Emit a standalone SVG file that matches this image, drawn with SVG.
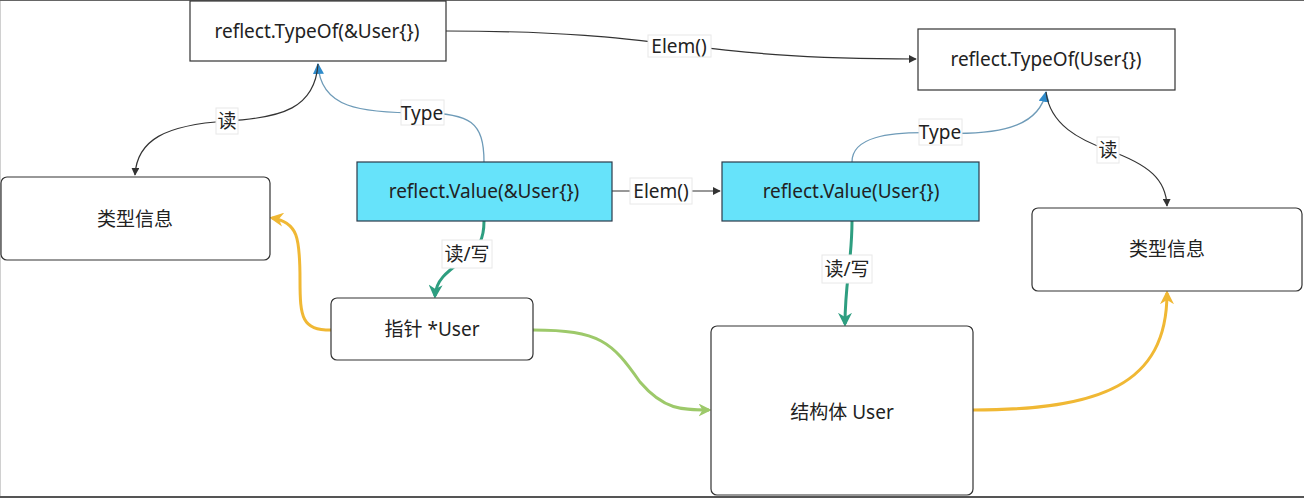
<svg xmlns="http://www.w3.org/2000/svg" width="1304" height="498" viewBox="0 0 1304 498">
<style>
text{font-family:"Noto Sans","Noto Sans CJK SC",sans-serif;font-size:19px;fill:#222;text-anchor:middle;dominant-baseline:central}
.box{fill:#fff;stroke:#333;stroke-width:1.2}
.cyan{fill:#66E3FA;stroke:#2b3a4a;stroke-width:1.2}
.lbl{fill:#fff;stroke:#e8e8e8;stroke-width:1}
.thin{fill:none;stroke:#333;stroke-width:1.2}
.blue{fill:none;stroke:#6E9BB8;stroke-width:1.3}
.teal{fill:none;stroke:#2E9E80;stroke-width:3}
.yel{fill:none;stroke:#F0B834;stroke-width:3}
.grn{fill:none;stroke:#9DC96A;stroke-width:3}
</style>
<defs>
<marker id="aDark" viewBox="0 0 10 10" refX="9" refY="5" markerWidth="8" markerHeight="8" markerUnits="userSpaceOnUse" orient="auto"><path d="M0,0 L10,5 L0,10 z" fill="#333"/></marker>
<marker id="aBlue" viewBox="0 0 10 10" refX="9" refY="5" markerWidth="11" markerHeight="11" markerUnits="userSpaceOnUse" orient="auto"><path d="M0,0 L10,5 L0,10 z" fill="#2E8BCB"/></marker>
<marker id="aTeal" viewBox="0 0 10 10" refX="8" refY="5" markerWidth="14" markerHeight="14" markerUnits="userSpaceOnUse" orient="auto"><path d="M0,0 L10,5 L0,10 L3,5 z" fill="#2E9E80"/></marker>
<marker id="aYel" viewBox="0 0 10 10" refX="8" refY="5" markerWidth="14" markerHeight="14" markerUnits="userSpaceOnUse" orient="auto"><path d="M0,0 L10,5 L0,10 L3,5 z" fill="#F0B834"/></marker>
<marker id="aGrn" viewBox="0 0 10 10" refX="8" refY="5" markerWidth="13" markerHeight="13" markerUnits="userSpaceOnUse" orient="auto"><path d="M0,0 L10,5 L0,10 L3,5 z" fill="#9DC96A"/></marker>
</defs>
<rect x="0" y="0" width="1304" height="498" fill="#fff"/>
<line x1="0.5" y1="0" x2="0.5" y2="498" stroke="#d0d0d0" stroke-width="1"/>
<line x1="0" y1="0.5" x2="1304" y2="0.5" stroke="#666" stroke-width="1"/>
<line x1="0" y1="497" x2="1304" y2="497" stroke="#555" stroke-width="2"/>

<g id="connectors">
<path class="thin" d="M446,31 C680,31 680,59 916,59" marker-end="url(#aDark)"/>
<path class="blue" d="M484,162 C484,122 470,113 422,113 C360,113 320,108 318,64" marker-end="url(#aBlue)"/>
<path class="thin" d="M318,64 C315,108 282,118 227,121 C165,125 137,140 135,175" marker-end="url(#aDark)"/>
<path class="thin" d="M612,191 L720,191" marker-end="url(#aDark)"/>
<path class="blue" d="M852,162 C852,138 885,131 940,133 C1010,136 1040,122 1046,92" marker-end="url(#aBlue)"/>
<path class="thin" d="M1046,92 C1050,125 1080,140 1108,150 C1150,165 1166,180 1167,206" marker-end="url(#aDark)"/>
<path class="teal" d="M484,221 C484,240 478,248 468,256 C450,270 436,278 435,296" marker-end="url(#aTeal)"/>
<path class="teal" d="M852,221 C852,262 845,282 845,324" marker-end="url(#aTeal)"/>
<path class="yel" d="M331,330 C302,330 300,318 300,280 C300,238 298,222 272,218" marker-end="url(#aYel)"/>
<path class="grn" d="M533,330 C600,330 612,342 640,382 C664,410 682,410 709,410" marker-end="url(#aGrn)"/>
<path class="yel" d="M973,410 C1100,410 1167,385 1167,293" marker-end="url(#aYel)"/>

<rect class="lbl" x="648" y="35" width="63" height="22"/><text x="679" y="46">Elem()</text>
<rect class="lbl" x="401" y="100" width="43" height="25"/><text x="422" y="113">Type</text>
<rect class="lbl" x="216" y="108" width="22" height="26"/><text x="227" y="121">读</text>
<rect class="lbl" x="630" y="178" width="62" height="26"/><text x="661" y="191">Elem()</text>
<rect class="lbl" x="919" y="119" width="43" height="26"/><text x="940" y="132">Type</text>
<rect class="lbl" x="1097" y="137" width="22" height="26"/><text x="1108" y="150">读</text>
<rect class="lbl" x="442" y="240" width="50" height="28"/><text x="467" y="254">读/写</text>
<rect class="lbl" x="822" y="255" width="50" height="28"/><text x="847" y="269">读/写</text>
</g>

<g id="typeof-ptr"><rect class="box" x="190" y="1" width="256" height="60"/><text x="317" y="31">reflect.TypeOf(&amp;User{})</text></g>
<g id="typeof-val"><rect class="box" x="918" y="29" width="257" height="61"/><text x="1046" y="59">reflect.TypeOf(User{})</text></g>
<g id="typeinfo-left"><rect class="box" x="1" y="177" width="269" height="83" rx="6"/><text x="135" y="219">类型信息</text></g>
<g id="value-ptr"><rect class="cyan" x="357" y="162" width="255" height="59"/><text x="484" y="191">reflect.Value(&amp;User{})</text></g>
<g id="value-val"><rect class="cyan" x="722" y="162" width="257" height="59"/><text x="851" y="191">reflect.Value(User{})</text></g>
<g id="typeinfo-right"><rect class="box" x="1032" y="208" width="270" height="83" rx="6"/><text x="1167" y="249">类型信息</text></g>
<g id="pointer"><rect class="box" x="331" y="298" width="202" height="62" rx="6"/><text x="432" y="329">指针 *User</text></g>
<g id="struct"><rect class="box" x="711" y="326" width="262" height="169" rx="6"/><text x="842" y="412">结构体 User</text></g>
</svg>
